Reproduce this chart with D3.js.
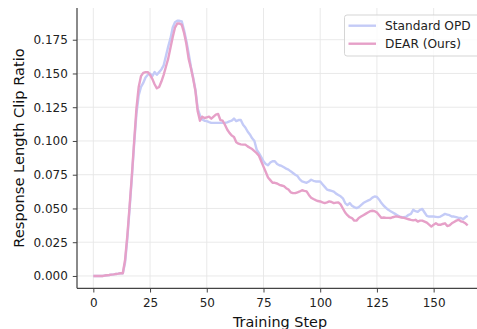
<!DOCTYPE html>
<html>
<head>
<meta charset="utf-8">
<script src="https://cdn.jsdelivr.net/npm/d3@7"></script>
<style>
  body { margin: 0; background: #fff; }
  svg { font-family: "DejaVu Sans", sans-serif; }
</style>
</head>
<body>
<svg id="chart" width="477" height="329"></svg>
<script>
// training steps 0..165
var steps = d3.range(0, 166);

var standardOpd = [
  0, 0, 0, 0, 0, 0.0003, 0.0005, 0.0007, 0.001, 0.0012, 0.0015, 0.0017, 0.002, 0.002,
  0.01, 0.028, 0.05, 0.073, 0.098, 0.12, 0.134, 0.140, 0.143, 0.147, 0.149, 0.150,
  0.148, 0.151, 0.149, 0.151, 0.153, 0.156, 0.163, 0.170, 0.176, 0.184, 0.188, 0.189,
  0.189, 0.1885, 0.182, 0.174, 0.165, 0.155, 0.147, 0.138, 0.124, 0.119, 0.116, 0.115,
  0.1147, 0.114, 0.1134, 0.1134, 0.1134, 0.1134, 0.1134, 0.1134, 0.1134, 0.1138, 0.1145,
  0.115, 0.1166, 0.1147, 0.1155, 0.1155, 0.112, 0.110, 0.107, 0.1048, 0.102, 0.100,
  0.0936, 0.091, 0.088, 0.085, 0.083, 0.082, 0.084, 0.085, 0.085, 0.083, 0.082, 0.0815,
  0.0805, 0.0795, 0.0788, 0.0775, 0.0763, 0.075, 0.074, 0.0715, 0.070, 0.0695, 0.069,
  0.070, 0.0713, 0.0705, 0.070, 0.070, 0.070, 0.068, 0.066, 0.064, 0.0635, 0.063, 0.0625,
  0.061, 0.060, 0.059, 0.0575, 0.054, 0.0525, 0.054, 0.052, 0.051, 0.0503, 0.051, 0.0525,
  0.054, 0.055, 0.0558, 0.0565, 0.058, 0.0589, 0.0585, 0.0565, 0.054, 0.052, 0.0505, 0.049,
  0.048, 0.047, 0.046, 0.045, 0.044, 0.0435, 0.0435, 0.044, 0.0453, 0.046, 0.049, 0.048,
  0.0475, 0.049, 0.0496, 0.047, 0.0445, 0.044, 0.044, 0.044, 0.0438, 0.0436, 0.044, 0.045,
  0.046, 0.0455, 0.045, 0.044, 0.044, 0.0436, 0.043, 0.0429, 0.042, 0.0435, 0.0446
];

var dearOurs = [
  0, 0, 0, 0, 0, 0.0003, 0.0005, 0.0007, 0.001, 0.0012, 0.0015, 0.0017, 0.002, 0.002,
  0.012, 0.03, 0.052, 0.075, 0.100, 0.124, 0.140, 0.148, 0.1505, 0.151, 0.151, 0.149,
  0.146, 0.142, 0.139, 0.140, 0.144, 0.149, 0.155, 0.161, 0.169, 0.177, 0.184, 0.187,
  0.187, 0.186, 0.180, 0.172, 0.161, 0.154, 0.146, 0.137, 0.122, 0.115, 0.118, 0.117,
  0.1175, 0.118, 0.1165, 0.118, 0.1195, 0.120, 0.1155, 0.115, 0.112, 0.1085, 0.106, 0.104,
  0.103, 0.099, 0.098, 0.0975, 0.0973, 0.0973, 0.096, 0.095, 0.094, 0.0925, 0.091, 0.089,
  0.085, 0.081, 0.077, 0.073, 0.071, 0.069, 0.069, 0.0685, 0.0675, 0.067, 0.0665, 0.065,
  0.064, 0.062, 0.0614, 0.0614, 0.062, 0.0626, 0.0635, 0.063, 0.0626, 0.060, 0.058, 0.057,
  0.0562, 0.0555, 0.0552, 0.0545, 0.054, 0.0545, 0.0552, 0.0548, 0.054, 0.0543, 0.0545,
  0.053, 0.050, 0.047, 0.045, 0.0435, 0.0429, 0.041, 0.041, 0.043, 0.044, 0.045, 0.046,
  0.047, 0.048, 0.0483, 0.048, 0.047, 0.045, 0.043, 0.0433, 0.043, 0.043, 0.0429, 0.0435,
  0.044, 0.044, 0.0437, 0.0433, 0.043, 0.0425, 0.042, 0.0415, 0.0412, 0.0416, 0.0403,
  0.041, 0.041, 0.0403, 0.0395, 0.038, 0.0366, 0.038, 0.039, 0.0379, 0.0379, 0.0385,
  0.039, 0.037, 0.0375, 0.039, 0.040, 0.041, 0.0416, 0.0405, 0.040, 0.039, 0.0375
];

var xTicks = [0, 25, 50, 75, 100, 125, 150];
var yTicks = [0, 0.025, 0.05, 0.075, 0.1, 0.125, 0.15, 0.175];

var series = [
  {name: 'Standard OPD', values: standardOpd, color: '#c4cbf7'},
  {name: 'DEAR (Ours)', values: dearOurs, color: '#e6a0c8'}
];

var svg = d3.select('#chart');

// plot box (right edge runs past the canvas, like the reference)
var box = {left: 77, top: 8, bottom: 288.3, right: 484};

var x = d3.scaleLinear().domain([-7.2, 172.2]).range([box.left, box.right]);
var y = d3.scaleLinear().domain([-0.00914, 0.1985]).range([box.bottom, box.top]);

// grid
var grid = svg.append('g').attr('class', 'grid');
grid.selectAll('.gx').data(xTicks).enter().append('line')
  .attr('x1', function(d){ return x(d); }).attr('x2', function(d){ return x(d); })
  .attr('y1', box.top).attr('y2', box.bottom)
  .attr('stroke', '#e6e6e6').attr('stroke-width', 0.9);
grid.selectAll('.gy').data(yTicks).enter().append('line')
  .attr('x1', box.left).attr('x2', box.right)
  .attr('y1', function(d){ return y(d); }).attr('y2', function(d){ return y(d); })
  .attr('stroke', '#e6e6e6').attr('stroke-width', 0.9);

// lines
var line = d3.line()
  .x(function(d, i){ return x(steps[i]); })
  .y(function(d){ return y(d); });

svg.selectAll('.series').data(series).enter().append('path')
  .attr('class', 'series')
  .attr('d', function(s){ return line(s.values); })
  .attr('fill', 'none')
  .attr('stroke', function(s){ return s.color; })
  .attr('stroke-width', 2.4)
  .attr('stroke-linejoin', 'round');

// axes
var xAxis = svg.append('g')
  .attr('transform', 'translate(0,' + box.bottom + ')')
  .call(d3.axisBottom(x).tickValues(xTicks).tickSize(4.2).tickPadding(5.5).tickFormat(d3.format('d')));
var yAxis = svg.append('g')
  .attr('transform', 'translate(' + box.left + ',0)')
  .call(d3.axisLeft(y).tickValues(yTicks).tickSize(4.2).tickPadding(5).tickFormat(d3.format('.3f')));

[xAxis, yAxis].forEach(function(a) {
  a.select('.domain').attr('stroke', '#444').attr('stroke-width', 1.25);
  a.selectAll('.tick line').attr('stroke', '#444').attr('stroke-width', 1);
  a.selectAll('.tick text').attr('fill', '#222').style('font-size', '12px')
    .style('font-family', '"DejaVu Sans", sans-serif');
});
xAxis.select('.domain').attr('d', 'M' + box.left + ',0H' + box.right);
yAxis.select('.domain').attr('d', 'M0,' + box.top + 'V' + box.bottom);

// axis titles
svg.append('text')
  .attr('x', 280).attr('y', 326.8)
  .attr('text-anchor', 'middle')
  .style('font-size', '14.4px').attr('fill', '#111')
  .text('Training Step');
svg.append('text')
  .attr('transform', 'translate(23.5,148) rotate(-90)')
  .attr('text-anchor', 'middle')
  .style('font-size', '14.6px').attr('fill', '#111')
  .text('Response Length Clip Ratio');

// legend
var legend = svg.append('g');
legend.append('rect')
  .attr('x', 344.5).attr('y', 15).attr('width', 140).attr('height', 41)
  .attr('rx', 2.5)
  .attr('fill', 'rgba(255,255,255,0.8)').attr('stroke', '#d0d0d0').attr('stroke-width', 0.9);
var items = legend.selectAll('.item').data(series).enter().append('g')
  .attr('transform', function(d, i){ return 'translate(0,' + (25.7 + i * 18) + ')'; });
items.append('line')
  .attr('x1', 348.5).attr('x2', 376)
  .attr('stroke', function(d){ return d.color; }).attr('stroke-width', 2.4);
items.append('text')
  .attr('x', 385).attr('y', 4.3)
  .style('font-size', '12.2px').attr('fill', '#222')
  .text(function(d){ return d.name; });
</script>
</body>
</html>
